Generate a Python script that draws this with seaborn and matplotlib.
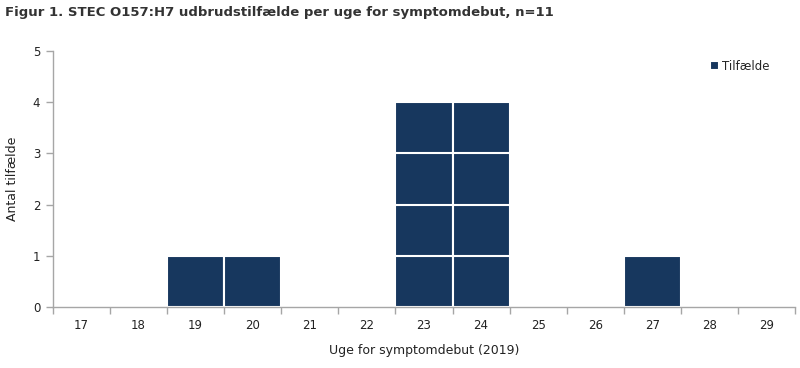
import matplotlib
matplotlib.use("Agg")
import matplotlib.pyplot as plt
import seaborn as sns
import pandas as pd
import numpy as np

weeks = ["17", "18", "19", "20", "21", "22", "23", "24", "25", "26", "27", "28", "29"]
cases = [0, 0, 1, 1, 0, 0, 4, 4, 0, 0, 1, 0, 0]
series_label = "Tilfælde"
title = "Figur 1. STEC O157:H7 udbrudstilfælde per uge for symptomdebut, n=11"
xlabel = "Uge for symptomdebut (2019)"
ylabel = "Antal tilfælde"

sns.set_theme(style="white")
plt.rcParams['font.family'] = ['DejaVu Sans']

bar_color = "#17375E"
grey = "#A6A6A6"

fig = plt.figure(figsize=(8.0, 3.68), dpi=100)
ax = fig.add_axes([0.066, 0.166, 0.928, 0.695])

maxc = max(cases)
for k in range(maxc, 0, -1):
    df = pd.DataFrame({"week": weeks, "n": [min(c, k) for c in cases]})
    sns.barplot(data=df, x="week", y="n", order=weeks, color=bar_color,
                saturation=1, width=1.0, edgecolor="white", linewidth=1.5,
                ax=ax, label=series_label if k == maxc else None)

ax.set_xlim(-0.5, len(weeks) - 0.5)
ax.set_ylim(0, 5)
ax.set_yticks(range(0, 6))
ax.set_xticks(np.arange(-0.5, len(weeks), 1.0), minor=True)
ax.tick_params(axis="x", which="major", length=0, pad=9, labelsize=8.5, colors="#222222")
ax.tick_params(axis="x", which="minor", length=5, width=1, color=grey, direction="out", bottom=True)
ax.tick_params(axis="y", which="major", length=5, width=1, color=grey, direction="out", left=True,
               labelsize=8.5, labelcolor="#222222", pad=4)

for s in ["top", "right"]:
    ax.spines[s].set_visible(False)
for s in ["left", "bottom"]:
    ax.spines[s].set_color(grey)
    ax.spines[s].set_linewidth(1)

ax.set_xlabel(xlabel, fontsize=9, color="#222222", labelpad=8)
ax.set_ylabel(ylabel, fontsize=9, color="#222222", labelpad=10)

handles, labels = ax.get_legend_handles_labels()
leg = ax.legend(handles[:1], labels[:1], loc="upper right", bbox_to_anchor=(0.975, 0.995),
                frameon=False, fontsize=8.5, handlelength=0.75, handleheight=0.75,
                handletextpad=0.25, borderaxespad=0.2)

fig.text(0.006, 0.965, title, fontsize=9.5, fontweight="bold", color="#333333",
         ha="left", va="center")

fig.savefig("out.png", dpi=100)
